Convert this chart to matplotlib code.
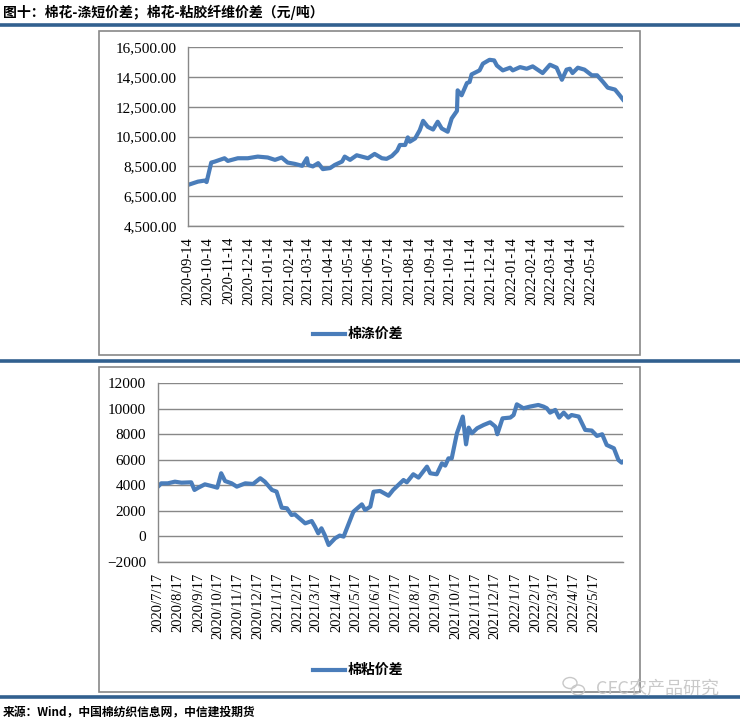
import numpy as np
import pandas as pd
import matplotlib
matplotlib.use("Agg")
import matplotlib.pyplot as plt
from matplotlib.patches import Rectangle, Ellipse
from matplotlib.lines import Line2D
from matplotlib.ticker import FuncFormatter

# -----------------------------
# Data
# -----------------------------
top_dates = ["2020-09-14", "2020-09-29", "2020-10-09", "2020-10-12", "2020-10-19", "2020-10-24",
             "2020-11-08", "2020-11-13", "2020-11-28", "2020-12-13", "2020-12-28", "2021-01-12",
             "2021-01-23", "2021-02-02", "2021-02-11", "2021-02-22", "2021-03-05", "2021-03-12",
             "2021-03-14", "2021-03-21", "2021-03-29", "2021-04-05", "2021-04-16", "2021-04-23",
             "2021-05-04", "2021-05-08", "2021-05-16", "2021-05-26", "2021-06-12", "2021-06-22",
             "2021-07-03", "2021-07-10", "2021-07-18", "2021-07-26", "2021-07-30", "2021-08-07",
             "2021-08-11", "2021-08-14", "2021-08-22", "2021-08-29", "2021-09-03", "2021-09-10",
             "2021-09-18", "2021-09-25", "2021-10-01", "2021-10-10", "2021-10-16", "2021-10-24",
             "2021-10-25", "2021-10-31", "2021-11-08", "2021-11-12", "2021-11-15", "2021-11-27",
             "2021-12-02", "2021-12-12", "2021-12-19", "2021-12-23", "2022-01-01", "2022-01-12",
             "2022-01-16", "2022-01-27", "2022-02-06", "2022-02-15", "2022-03-02", "2022-03-13",
             "2022-03-23", "2022-03-31", "2022-04-07", "2022-04-12", "2022-04-16", "2022-04-24",
             "2022-05-04", "2022-05-15", "2022-05-23", "2022-06-01", "2022-06-08", "2022-06-19",
             "2022-06-26", "2022-07-01"]
top_vals = [7260, 7480, 7550, 7450, 8760, 8820,
            9050, 8870, 9050, 9050, 9160, 9100,
            8940, 9100, 8760, 8670, 8540, 9050,
            8600, 8500, 8720, 8320, 8390, 8600,
            8830, 9160, 8940, 9250, 9050, 9340,
            9050, 9010, 9200, 9560, 9940, 9940,
            10450, 10160, 10380, 10940, 11560, 11160,
            10980, 11500, 11050, 10830, 11720, 12230,
            13610, 13280, 14100, 14170, 14680, 14950,
            15400, 15660, 15620, 15280, 14950, 15130,
            14950, 15170, 15060, 15220, 14770, 15330,
            15130, 14320, 15000, 15060, 14770, 15130,
            15000, 14620, 14620, 14170, 13790, 13660,
            13280, 12990]

bot_dates = ["2020-07-17", "2020-07-22", "2020-08-01", "2020-08-12", "2020-08-22", "2020-09-06",
             "2020-09-11", "2020-09-17", "2020-09-27", "2020-10-07", "2020-10-16", "2020-10-22",
             "2020-10-28", "2020-11-07", "2020-11-15", "2020-11-28", "2020-12-10", "2020-12-21",
             "2020-12-28", "2021-01-08", "2021-01-15", "2021-01-23", "2021-01-31", "2021-02-07",
             "2021-02-12", "2021-02-28", "2021-03-10", "2021-03-15", "2021-03-20", "2021-03-25",
             "2021-03-30", "2021-04-05", "2021-04-15", "2021-04-22", "2021-04-28", "2021-05-05",
             "2021-05-13", "2021-05-26", "2021-05-31", "2021-06-08", "2021-06-13", "2021-06-23",
             "2021-07-06", "2021-07-13", "2021-07-29", "2021-08-03", "2021-08-13", "2021-08-21",
             "2021-09-03", "2021-09-08", "2021-09-18", "2021-09-26", "2021-10-01", "2021-10-06",
             "2021-10-11", "2021-10-19", "2021-10-28", "2021-11-02", "2021-11-06", "2021-11-11",
             "2021-11-19", "2021-11-29", "2021-12-09", "2021-12-17", "2021-12-20", "2021-12-28",
             "2022-01-09", "2022-01-14", "2022-01-19", "2022-01-29", "2022-02-08", "2022-02-21",
             "2022-03-01", "2022-03-06", "2022-03-11", "2022-03-19", "2022-03-25", "2022-04-01",
             "2022-04-08", "2022-04-13", "2022-04-24", "2022-05-04", "2022-05-14", "2022-05-22",
             "2022-05-30", "2022-06-06", "2022-06-17", "2022-06-24", "2022-06-29", "2022-07-01"]
bot_vals = [3890, 4150, 4150, 4280, 4200, 4230,
            3630, 3810, 4070, 3940, 3810, 4940,
            4330, 4150, 3890, 4150, 4100, 4550,
            4280, 3630, 3500, 2240, 2190, 1665,
            1720, 1010, 1190, 750, 230, 620,
            95, -690, -160, 50, -30, 880,
            1920, 2500, 2060, 2320, 3490, 3550,
            3180, 3630, 4410, 4230, 4860, 4600,
            5460, 4940, 4860, 5720, 5540, 6110,
            6110, 8080, 9390, 7210, 8520, 8080,
            8470, 8730, 8940, 8600, 8000, 9250,
            9310, 9510, 10350, 10040, 10170, 10300,
            10170, 10040, 9700, 9910, 9310, 9700,
            9310, 9510, 9390, 8340, 8290, 7870,
            8000, 7160, 6900, 5980, 5770, 5850]

top_label = "棉涤价差"
bot_label = "棉粘价差"
title = "图十：棉花-涤短价差；棉花-粘胶纤维价差（元/吨）"
source = "来源：Wind，中国棉纺织信息网，中信建投期货"
watermark = "CFC农产品研究"

top_dates = pd.to_datetime(top_dates)
bot_dates = pd.to_datetime(bot_dates)

# -----------------------------
# Styling
# -----------------------------
plt.rcParams['font.family'] = ["Noto Sans CJK SC", "DejaVu Sans"]
line_color = "#4a7dba"
grid_color = "#888888"
bar_color = "#31608f"
num_font = "Liberation Serif"

W, H = 740, 724
fig = plt.figure(figsize=(7.4, 7.24), dpi=100)

def fx(px):
    return px / W

def fy(py):
    return 1 - py / H

# outer boxes and blue rules
for (x0, y0, x1, y1) in [(98.5, 30.5, 639.5, 355), (98.5, 366.5, 639.5, 692)]:
    fig.add_artist(Rectangle((fx(x0), fy(y1)), fx(x1 - x0), (y1 - y0) / H,
                             fill=False, edgecolor=grid_color, lw=1.2, transform=fig.transFigure))
for yb in [25.3, 361.3, 697.3]:
    fig.add_artist(Line2D([0, 1], [fy(yb), fy(yb)], color=bar_color, lw=2.6,
                          transform=fig.transFigure))

fig.text(fx(3), fy(12), title, fontsize=10, fontweight="bold", va="center", ha="left")
fig.text(fx(3), fy(713), source, fontsize=8.5, fontweight="bold", style="italic",
         va="center", ha="left")

# watermark (wechat-ish icon + text)
for (cx, cy, w, h) in [(570, 683, 14, 11), (578, 690, 13, 10)]:
    fig.add_artist(Ellipse((fx(cx), fy(cy)), fx(w), h / H, fill=False,
                           edgecolor="#c8c8c8", lw=1.0, transform=fig.transFigure))
fig.text(fx(596), fy(688), watermark, fontsize=13, color="#c4c4c4",
         va="center", ha="left", alpha=0.9)


def style_axes(ax):
    for s in ["top", "right"]:
        ax.spines[s].set_visible(False)
    for s in ["left", "bottom"]:
        ax.spines[s].set_color(grid_color)
        ax.spines[s].set_linewidth(1.0)
    ax.grid(axis="y", color=grid_color, lw=1.0)
    ax.set_axisbelow(True)
    ax.tick_params(length=0)
    for lab in ax.get_yticklabels():
        lab.set_family(num_font)
        lab.set_fontsize(11)
    for lab in ax.get_xticklabels():
        lab.set_family(num_font)
        lab.set_fontsize(10.5)
        lab.set_rotation(90)
        lab.set_va("top")
        lab.set_ha("center")


# -----------------------------
# Top chart: cotton - polyester
# -----------------------------
ax1 = fig.add_axes([fx(188), fy(226), fx(623 - 188), (226 - 47.3) / H])
ax1.plot(top_dates, top_vals, color=line_color, lw=3, solid_joinstyle="round")
ax1.set_ylim(4500, 16500)
ax1.set_yticks(np.arange(4500, 16501, 2000))
ax1.yaxis.set_major_formatter(FuncFormatter(lambda v, p: f"{v:,.2f}"))
ax1.set_xlim(pd.Timestamp("2020-09-14"), pd.Timestamp("2022-07-01"))
top_ticks = pd.date_range("2020-09-01", "2022-05-01", freq="MS") + pd.Timedelta(days=13)
ax1.set_xticks(top_ticks)
ax1.set_xticklabels([d.strftime("%Y-%m-%d") for d in top_ticks])
ax1.tick_params(axis="x", pad=8)
ax1.tick_params(axis="y", pad=8)
style_axes(ax1)

fig.add_artist(Line2D([fx(313), fx(345)], [fy(334), fy(334)], color=line_color, lw=3,
                      transform=fig.transFigure))
fig.text(fx(348), fy(334), top_label, fontsize=10, fontweight="bold", va="center", ha="left")

# -----------------------------
# Bottom chart: cotton - viscose
# -----------------------------
ax2 = fig.add_axes([fx(158), fy(561.7), fx(623 - 158), (561.7 - 383.3) / H])
ax2.plot(bot_dates, bot_vals, color=line_color, lw=3, solid_joinstyle="round")
ax2.set_ylim(-2000, 12000)
ax2.set_yticks(np.arange(-2000, 12001, 2000))
ax2.set_xlim(pd.Timestamp("2020-07-17"), pd.Timestamp("2022-07-01"))
bot_ticks = pd.date_range("2020-07-01", "2022-05-01", freq="MS") + pd.Timedelta(days=16)
ax2.set_xticks(bot_ticks)
ax2.set_xticklabels([f"{d.year}/{d.month}/{d.day}" for d in bot_ticks])
ax2.tick_params(axis="x", pad=8)
ax2.tick_params(axis="y", pad=8.5)
style_axes(ax2)

fig.add_artist(Line2D([fx(313), fx(345)], [fy(670), fy(670)], color=line_color, lw=3,
                      transform=fig.transFigure))
fig.text(fx(348), fy(670), bot_label, fontsize=10, fontweight="bold", va="center", ha="left")

fig.savefig("out.png", dpi=100)
